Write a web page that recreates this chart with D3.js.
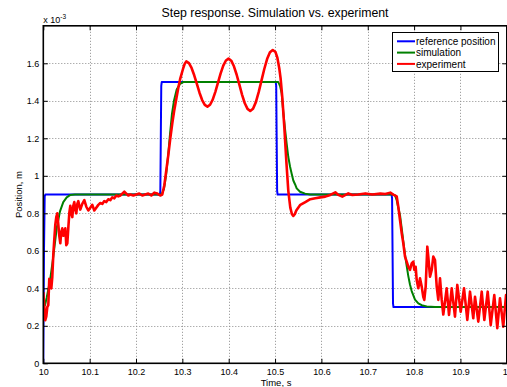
<!DOCTYPE html>
<html>
<head>
<meta charset="utf-8">
<script src="https://cdn.jsdelivr.net/npm/d3@7"></script>
<style>
  html, body { margin: 0; padding: 0; background: #fff; }
  svg { display: block; font-family: "Liberation Sans", Arial, Helvetica, sans-serif; }
</style>
</head>
<body>
<svg id="chart" width="507" height="387"></svg>
<script>
// Position values are in units of 1e-3 m (axis multiplier shown as "x 10^-3").
// Each series is a list of [time (s), position] samples.

// Reference (commanded) position
const refPts = [
  [10.000, 0], [10.0015, 0.6], [10.003, 0.89], [10.0045, 0.9],
  [10.2515, 0.9], [10.2525, 0.92], [10.2535, 1.2], [10.2545, 1.48], [10.2555, 1.5],
  [10.5015, 1.5], [10.5025, 1.48], [10.5035, 1.2], [10.5045, 0.92], [10.5055, 0.9],
  [10.7515, 0.9], [10.7525, 0.88], [10.7535, 0.6], [10.7545, 0.32], [10.7555, 0.3],
  [11.0, 0.3]
];

// Simulated response
const simPts = [
  [10.000, 0.30], [10.0037, 0.31], [10.0073, 0.35], [10.0145, 0.44], [10.0216, 0.57],
  [10.0289, 0.72], [10.0360, 0.81], [10.0431, 0.86], [10.0505, 0.885], [10.0576, 0.897], [10.0684, 0.90],
  [10.2550, 0.90], [10.2604, 0.93], [10.2647, 1.00], [10.2690, 1.10], [10.2733, 1.22],
  [10.2776, 1.33], [10.2819, 1.40], [10.2878, 1.46], [10.2949, 1.49], [10.3020, 1.50], [10.3165, 1.50],
  [10.5070, 1.50], [10.5107, 1.48], [10.5143, 1.44], [10.5178, 1.34], [10.5215, 1.25],
  [10.5251, 1.17], [10.5286, 1.10], [10.5323, 1.05], [10.5360, 1.01], [10.5394, 0.975],
  [10.5431, 0.955], [10.5467, 0.933], [10.5539, 0.915], [10.5647, 0.905], [10.5755, 0.90],
  [10.7551, 0.90], [10.7588, 0.895], [10.7625, 0.87], [10.7659, 0.83], [10.7696, 0.79],
  [10.7733, 0.72], [10.7767, 0.65], [10.7804, 0.58], [10.7840, 0.52], [10.7875, 0.465],
  [10.7911, 0.42], [10.7948, 0.385], [10.8019, 0.34], [10.8091, 0.32], [10.8164, 0.31],
  [10.8272, 0.303], [10.8451, 0.30], [11.0, 0.30]
];

// Measured response
const expPts = [
  [10.0000, 0.38], [10.0022, 0.30], [10.0043, 0.23], [10.0065, 0.25], [10.0086, 0.30],
  [10.0108, 0.31], [10.0129, 0.45], [10.0151, 0.41], [10.0173, 0.40], [10.0194, 0.46],
  [10.0216, 0.58], [10.0237, 0.66], [10.0259, 0.74], [10.0280, 0.78], [10.0302, 0.80],
  [10.0324, 0.74], [10.0345, 0.68], [10.0367, 0.64], [10.0388, 0.70], [10.0410, 0.72],
  [10.0431, 0.68], [10.0453, 0.70], [10.0475, 0.72], [10.0496, 0.63], [10.0518, 0.64],
  [10.0539, 0.72], [10.0561, 0.80], [10.0583, 0.84], [10.0604, 0.80], [10.0626, 0.78],
  [10.0647, 0.84], [10.0669, 0.86], [10.0690, 0.82], [10.0712, 0.80], [10.0734, 0.85],
  [10.0755, 0.865], [10.0777, 0.84], [10.0798, 0.82], [10.0841, 0.85], [10.0885, 0.87],
  [10.0928, 0.835], [10.0971, 0.815], [10.1014, 0.83], [10.1057, 0.845], [10.1100, 0.815],
  [10.1143, 0.83], [10.1187, 0.845], [10.1230, 0.855], [10.1273, 0.85], [10.1316, 0.865],
  [10.1359, 0.86], [10.1402, 0.875], [10.1446, 0.87], [10.1489, 0.885], [10.1532, 0.88],
  [10.1575, 0.895], [10.1618, 0.89], [10.1661, 0.895], [10.1704, 0.905], [10.1748, 0.915],
  [10.1791, 0.905], [10.1834, 0.895], [10.1877, 0.90], [10.1942, 0.895], [10.2006, 0.90],
  [10.2071, 0.905], [10.2136, 0.895], [10.2201, 0.90], [10.2265, 0.905], [10.2330, 0.895],
  [10.2395, 0.91], [10.2460, 0.905], [10.2524, 0.895], [10.2567, 0.90], [10.2611, 0.95],
  [10.2654, 1.03], [10.2697, 1.11], [10.2740, 1.20], [10.2783, 1.28], [10.2826, 1.35],
  [10.2869, 1.41], [10.2913, 1.47], [10.2956, 1.52], [10.3020, 1.575], [10.3050, 1.597],
  [10.3085, 1.61], [10.3142, 1.601], [10.3199, 1.575], [10.3256, 1.536], [10.3313, 1.49],
  [10.3370, 1.443], [10.3427, 1.404], [10.3484, 1.378], [10.3541, 1.369],
  [10.3598, 1.379], [10.3655, 1.406], [10.3712, 1.448], [10.3769, 1.497], [10.3826, 1.546],
  [10.3883, 1.588], [10.3940, 1.615], [10.3996, 1.625],
  [10.4055, 1.614], [10.4113, 1.584], [10.4172, 1.539], [10.4230, 1.486], [10.4289, 1.432],
  [10.4347, 1.387], [10.4406, 1.357], [10.4464, 1.346],
  [10.4525, 1.358], [10.4586, 1.393], [10.4647, 1.446], [10.4708, 1.509], [10.4769, 1.571],
  [10.4830, 1.624], [10.4890, 1.659], [10.4951, 1.671],
  [10.5010, 1.66], [10.5050, 1.63], [10.5090, 1.575], [10.5120, 1.52], [10.5156, 1.42],
  [10.5200, 1.26], [10.5243, 1.08], [10.5286, 0.92], [10.5329, 0.83], [10.5365, 0.795],
  [10.5394, 0.786], [10.5425, 0.795], [10.5458, 0.815], [10.5545, 0.845], [10.5653, 0.86],
  [10.5760, 0.875], [10.5868, 0.88], [10.5976, 0.885], [10.6084, 0.889], [10.6192, 0.898],
  [10.6300, 0.912], [10.6365, 0.898], [10.6451, 0.889], [10.6580, 0.906], [10.6667, 0.898],
  [10.6796, 0.90], [10.6947, 0.906], [10.7098, 0.90], [10.7271, 0.905], [10.7379, 0.903],
  [10.7487, 0.91], [10.7551, 0.90], [10.7625, 0.89], [10.7659, 0.835], [10.7696, 0.764],
  [10.7733, 0.693], [10.7767, 0.64], [10.7804, 0.569], [10.7840, 0.542], [10.7875, 0.515],
  [10.7911, 0.498], [10.7948, 0.533], [10.7983, 0.542], [10.8004, 0.498], [10.8034, 0.515],
  [10.8056, 0.444], [10.8091, 0.40], [10.8127, 0.453], [10.8164, 0.409], [10.8198, 0.355],
  [10.8220, 0.338], [10.8250, 0.409], [10.8285, 0.622], [10.8306, 0.569], [10.8343, 0.462],
  [10.8380, 0.498], [10.8414, 0.569], [10.8451, 0.551], [10.8488, 0.409], [10.8522, 0.338],
  [10.8559, 0.453], [10.8596, 0.338], [10.8630, 0.26], [10.8703, 0.40], [10.8753, 0.258],
  [10.8811, 0.40], [10.8882, 0.249], [10.8932, 0.418], [10.9005, 0.275], [10.9077, 0.40],
  [10.9148, 0.231], [10.9206, 0.382], [10.9277, 0.24], [10.9314, 0.355], [10.9385, 0.222],
  [10.9459, 0.382], [10.9515, 0.231], [10.9588, 0.382], [10.9653, 0.204], [10.9730, 0.364],
  [10.9795, 0.187], [10.9853, 0.347], [10.9924, 0.195], [10.9983, 0.364], [11.0, 0.30]
];

const xTicks = [10, 10.1, 10.2, 10.3, 10.4, 10.5, 10.6, 10.7, 10.8, 10.9, 11];
const xTickLabels = ["10", "10.1", "10.2", "10.3", "10.4", "10.5", "10.6", "10.7", "10.8", "10.9", "11"];
const yTicks = [0, 0.2, 0.4, 0.6, 0.8, 1, 1.2, 1.4, 1.6];
const yTickLabels = ["0", "0.2", "0.4", "0.6", "0.8", "1", "1.2", "1.4", "1.6"];

const seriesNames = ["reference position", "simulation", "experiment"];
const seriesColors = ["#0000ff", "#008000", "#ff0000"];

const svg = d3.select("#chart");
const pLeft = 43.3, pRight = 506.8, pTop = 25.8, pBottom = 363.3;
const x = d3.scaleLinear().domain([10, 11]).range([pLeft, pRight]);
const y = d3.scaleLinear().domain([0, 1.8]).range([pBottom, pTop]);

const FONT = "9px";

// dotted grid
const grid = svg.append("g").attr("stroke", "#8c8c8c").attr("stroke-width", 1)
  .attr("stroke-dasharray", "1,2");
xTicks.slice(1, -1).forEach(t => {
  const px = Math.round(x(t)) + 0.5;
  grid.append("line").attr("x1", px).attr("x2", px).attr("y1", pTop).attr("y2", pBottom);
});
yTicks.slice(1).forEach(v => {
  const py = Math.round(y(v)) + 0.5;
  grid.append("line").attr("x1", pLeft).attr("x2", pRight).attr("y1", py).attr("y2", py);
});

// data lines
svg.append("defs").append("clipPath").attr("id", "plotclip")
  .append("rect").attr("x", pLeft).attr("y", pTop).attr("width", pRight - pLeft).attr("height", pBottom - pTop);

const line = d3.line().x(d => x(d[0])).y(d => y(d[1]));
const plot = svg.append("g").attr("clip-path", "url(#plotclip)");
const series = [
  { pts: refPts, w: 2 },
  { pts: simPts, w: 2 },
  { pts: expPts, w: 2.6 }
];
series.forEach((s, i) => {
  plot.append("path")
    .datum(s.pts)
    .attr("d", line)
    .attr("fill", "none")
    .attr("stroke", seriesColors[i])
    .attr("stroke-width", s.w)
    .attr("stroke-linejoin", "round");
});

// axes with inward ticks on all four sides
const tickLen = -4.5;
const xAxis = svg.append("g").attr("transform", `translate(0,${pBottom})`)
  .call(d3.axisBottom(x).tickValues(xTicks).tickSize(tickLen).tickPadding(5)
    .tickFormat((d, i) => xTickLabels[i]));
const xAxisTop = svg.append("g").attr("transform", `translate(0,${pTop})`)
  .call(d3.axisTop(x).tickValues(xTicks).tickSize(tickLen).tickFormat(""));
const yAxis = svg.append("g").attr("transform", `translate(${pLeft},0)`)
  .call(d3.axisLeft(y).tickValues(yTicks).tickSize(tickLen).tickPadding(4)
    .tickFormat((d, i) => yTickLabels[i]));
const yAxisRight = svg.append("g").attr("transform", `translate(${pRight},0)`)
  .call(d3.axisRight(y).tickValues(yTicks).tickSize(tickLen).tickFormat(""));

[xAxis, xAxisTop, yAxis, yAxisRight].forEach(g => {
  g.select(".domain").remove();
  g.selectAll(".tick line").attr("stroke", "#000").attr("stroke-width", 1);
  g.selectAll("text").attr("font-size", FONT).attr("fill", "#000")
    .attr("font-family", "Liberation Sans, Arial, sans-serif");
});

// frame
svg.append("rect").attr("x", pLeft).attr("y", pTop)
  .attr("width", pRight - pLeft).attr("height", pBottom - pTop)
  .attr("fill", "none").attr("stroke", "#000").attr("stroke-width", 1.6);

// exponent label
const ex = svg.append("text").attr("x", pLeft).attr("y", 23).attr("font-size", FONT).attr("fill", "#000");
ex.append("tspan").text("x 10");
ex.append("tspan").attr("dy", -4.5).attr("font-size", "6.5px").text("-3");

// title and axis labels
svg.append("text").attr("x", (pLeft + pRight) / 2).attr("y", 17)
  .attr("text-anchor", "middle").attr("font-size", "12.3px").attr("fill", "#000")
  .text("Step response. Simulation vs. experiment");
svg.append("text").attr("x", (pLeft + pRight) / 2 + 1).attr("y", 385.5)
  .attr("text-anchor", "middle").attr("font-size", "9.5px").attr("fill", "#000")
  .text("Time, s");
svg.append("text").attr("transform", `translate(22,${(pTop + pBottom) / 2}) rotate(-90)`)
  .attr("text-anchor", "middle").attr("font-size", "9.5px").attr("fill", "#000")
  .text("Position, m");

// legend
const lg = svg.append("g").attr("transform", "translate(392.5,32.5)");
lg.append("rect").attr("width", 106).attr("height", 39)
  .attr("fill", "#fff").attr("stroke", "#000").attr("stroke-width", 1);
seriesNames.forEach((name, i) => {
  const cy = 8.8 + i * 11.3;
  lg.append("line").attr("x1", 4.5).attr("x2", 22.5).attr("y1", cy).attr("y2", cy)
    .attr("stroke", seriesColors[i]).attr("stroke-width", 2);
  lg.append("text").attr("x", 23.5).attr("y", cy + 3.6)
    .attr("font-size", "10px").attr("fill", "#000").text(name);
});
</script>
</body>
</html>
